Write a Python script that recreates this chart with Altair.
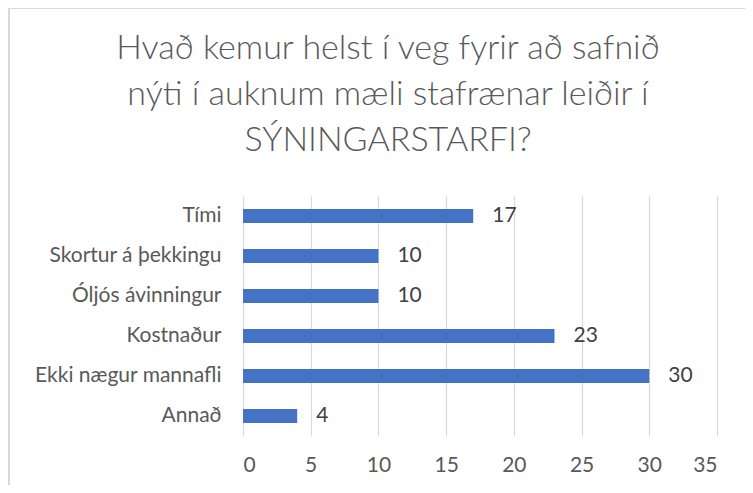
import altair as alt
import pandas as pd

categories = ["Tími", "Skortur á þekkingu", "Óljós ávinningur", "Kostnaður",
              "Ekki nægur mannafli", "Annað"]
values = [17, 10, 10, 23, 30, 4]
x_ticks = [0, 5, 10, 15, 20, 25, 30, 35]
title_lines = ["Hvað kemur helst í veg fyrir að safnið",
               "nýti í auknum mæli stafrænar leiðir í",
               "SÝNINGARSTARFI?"]

df = pd.DataFrame({"cat": categories, "val": values})
FONT = "Lato"

x_enc = alt.X("val:Q", scale=alt.Scale(domain=[0, 35], nice=False),
              axis=alt.Axis(values=x_ticks, title=None, grid=True, gridColor="#d9d9d9",
                            gridWidth=1.2, domain=False, ticks=False, labelFontSize=21,
                            labelColor="#595959", labelFont=FONT, labelPadding=18))
y_enc = alt.Y("cat:N", sort=categories,
              axis=alt.Axis(title=None, domain=False, ticks=False, labelFontSize=21,
                            labelColor="#595959", labelFont=FONT, labelPadding=22,
                            labelLimit=400))

base = alt.Chart(df)
bars = base.mark_bar(color="#4472C4", size=14).encode(x=x_enc, y=y_enc)
text = base.mark_text(align="left", baseline="middle", dx=19, fontSize=21,
                      color="#404040", font=FONT).encode(
    x=alt.X("val:Q"), y=alt.Y("cat:N", sort=categories), text="val:Q")

one = alt.Chart(pd.DataFrame({"k": [0]}))
border_left = one.mark_rule(color="#d9d9d9", strokeWidth=2).encode(
    x=alt.value(-234), y=alt.value(-188), y2=alt.value(320))
border_top = one.mark_rule(color="#d9d9d9", strokeWidth=2).encode(
    x=alt.value(-234), x2=alt.value(520), y=alt.value(-188))

chart = alt.layer(border_left, border_top, bars, text).properties(
    width=474, height=240,
    autosize=alt.AutoSizeParams(type="none"),
    padding={"left": 235, "top": 188, "right": 28, "bottom": 49},
    title=alt.TitleParams(text=title_lines, fontSize=34, font=FONT, fontWeight=300,
                          color="#595959", anchor="middle", dx=-92, offset=0, dy=151,
                          lineHeight=46),
).configure_view(stroke=None)

chart.save("out.html", embed_options={"renderer": "svg", "actions": False})
